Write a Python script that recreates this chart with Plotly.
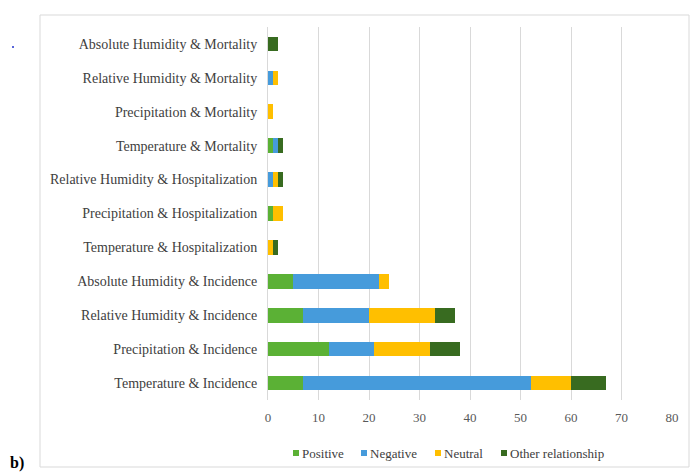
import plotly.graph_objects as go

categories = [
    "Absolute Humidity & Mortality",
    "Relative Humidity & Mortality",
    "Precipitation & Mortality",
    "Temperature & Mortality",
    "Relative Humidity & Hospitalization",
    "Precipitation & Hospitalization",
    "Temperature & Hospitalization",
    "Absolute Humidity & Incidence",
    "Relative Humidity & Incidence",
    "Precipitation & Incidence",
    "Temperature & Incidence",
]
positive = [0, 0, 0, 1, 0, 1, 0, 5, 7, 12, 7]
negative = [0, 1, 0, 1, 1, 0, 0, 17, 13, 9, 45]
neutral = [0, 1, 1, 0, 1, 2, 1, 2, 13, 11, 8]
other = [2, 0, 0, 1, 1, 0, 1, 0, 4, 6, 7]
x_ticks = [0, 10, 20, 30, 40, 50, 60, 70, 80]

series_names = ["Positive", "Negative", "Neutral", "Other relationship"]
series_values = [positive, negative, neutral, other]
series_colors = ["#5BB135", "#469BDB", "#FFBF00", "#386B20"]

SERIF = "Liberation Serif, Times New Roman, serif"

fig = go.Figure()
for name, vals, color in zip(series_names, series_values, series_colors):
    fig.add_trace(go.Bar(
        y=categories, x=vals, name=name, orientation="h",
        marker=dict(color=color, line=dict(width=0)),
        showlegend=False,
    ))

W, H = 691, 472
L, R, T, B = 268, 19, 27, 72
pw, ph = W - L - R, H - T - B

def px_x(p):
    return (p - L) / pw

def px_y(p):
    return (H - B - p) / ph

fig.update_layout(
    width=W, height=H,
    margin=dict(l=L, r=R, t=T, b=B),
    barmode="stack", bargap=0.57,
    paper_bgcolor="white", plot_bgcolor="white",
    font=dict(family=SERIF, size=13, color="#404040"),
    xaxis=dict(
        range=[0, 80], tickvals=x_ticks, showgrid=True, gridcolor="#D9D9D9",
        gridwidth=1, zeroline=False, showline=False, ticks="",
        ticklabelstandoff=8,
        tickfont=dict(family=SERIF, size=13, color="#595959"),
    ),
    yaxis=dict(
        autorange="reversed", showgrid=False, zeroline=False,
        showline=True, linecolor="#D9D9D9", ticks="", ticklabelstandoff=7,
        tickfont=dict(family=SERIF, size=14, color="#404040"),
    ),
    showlegend=False,
)

# legend: small colour square followed by the series name
legend_x = [293, 361, 435, 501]
legend_y = 453
for name, color, lx in zip(series_names, series_colors, legend_x):
    fig.add_shape(
        type="rect", xref="paper", yref="paper",
        x0=px_x(lx), x1=px_x(lx + 6), y0=px_y(legend_y + 3), y1=px_y(legend_y - 3),
        line=dict(width=0), fillcolor=color,
    )
    fig.add_annotation(
        text=name, xref="paper", yref="paper",
        x=px_x(lx + 7), y=px_y(legend_y), xanchor="left", yanchor="middle",
        showarrow=False, font=dict(family=SERIF, size=13, color="#404040"),
    )

# chart frame
fig.add_shape(
    type="rect", xref="paper", yref="paper",
    x0=px_x(40), x1=px_x(689), y0=px_y(467), y1=px_y(15),
    line=dict(color="#D9D9D9", width=1), fillcolor="rgba(0,0,0,0)", layer="below",
)
# small marker dot at the upper left
fig.add_shape(
    type="circle", xref="paper", yref="paper",
    x0=px_x(12), x1=px_x(14), y0=px_y(48), y1=px_y(46),
    line=dict(color="#2233CC", width=0), fillcolor="#2233CC",
)
# panel label
fig.add_annotation(
    text="<b>b)</b>", xref="paper", yref="paper",
    x=px_x(8), y=px_y(463), xanchor="left", yanchor="middle",
    showarrow=False, font=dict(size=16, color="#000000", family=SERIF),
)

fig.write_html("out.html")
